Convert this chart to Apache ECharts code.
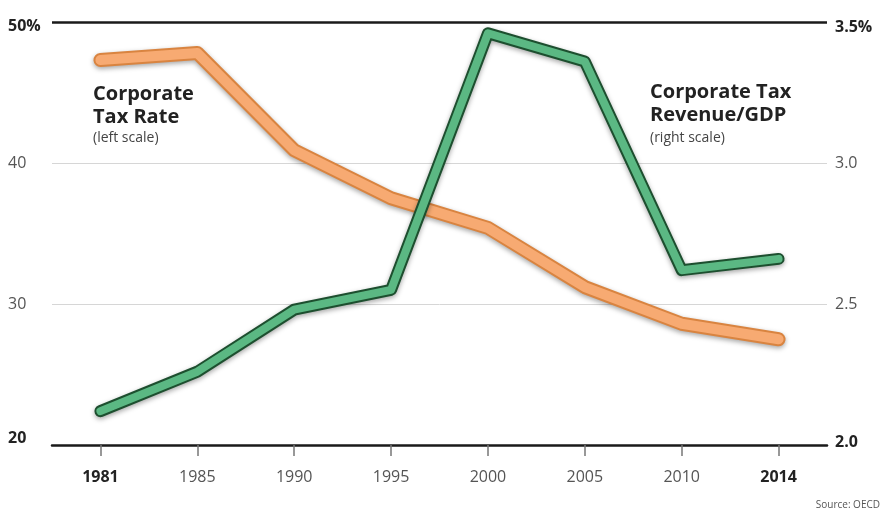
<!DOCTYPE html>
<html>
<head>
<meta charset="utf-8">
<script src="https://cdn.jsdelivr.net/npm/echarts@6/dist/echarts.min.js"></script>
<style>html,body{margin:0;padding:0;background:#fff}#c{width:888px;height:512px}</style>
</head>
<body>
<div id="c"></div>
<script>
const years = ['1981','1985','1990','1995','2000','2005','2010','2014'];
const taxRate = [47.3, 47.8, 40.9, 37.5, 35.4, 31.2, 28.6, 27.5];
const revenueGdp = [2.12, 2.26, 2.48, 2.55, 3.46, 3.36, 2.62, 2.66];
const leftTicks = [20, 30, 40, 50];
const rightTicks = [2.0, 2.5, 3.0, 3.5];

const FONT = '"Open Sans", "Noto Sans", sans-serif';
const chart = echarts.init(document.getElementById('c'));

function lineSeries(name, data, yIdx, color, width, z, shadow) {
  return {
    name: name, type: 'line', data: data, yAxisIndex: yIdx,
    symbol: 'none', z: z, silent: true,
    lineStyle: Object.assign({color: color, width: width, cap: 'round', join: 'round'},
      shadow ? {shadowColor: 'rgba(0,0,0,0.35)', shadowBlur: 5, shadowOffsetY: 2} : {})
  };
}

chart.setOption({
  animation: false,
  backgroundColor: '#fff',
  grid: {left: 52, right: 61, top: 22, bottom: 67},
  xAxis: {
    type: 'category', data: years, boundaryGap: true,
    axisLine: {lineStyle: {color: '#1a1a1a', width: 2.5}},
    axisTick: {show: true, alignWithLabel: true, inside: false, length: 11, lineStyle: {color: '#777', width: 1.5}},
    axisLabel: {
      margin: 24, fontFamily: FONT, fontSize: 16,
      formatter: function (v) { return (v === '1981' || v === '2014') ? '{b|' + v + '}' : '{r|' + v + '}'; },
      rich: {
        b: {fontFamily: FONT, fontSize: 16, fontWeight: 'bold', color: '#222'},
        r: {fontFamily: FONT, fontSize: 16, color: '#555'}
      }
    },
    splitLine: {show: false}
  },
  yAxis: [
    {
      type: 'value', min: 20, max: 50, interval: 10, position: 'left',
      axisLine: {show: false}, axisTick: {show: false},
      splitLine: {lineStyle: {color: '#d6d6d6', width: 1}},
      axisLabel: {
        align: 'left', margin: 44, fontFamily: FONT,
        formatter: function (v) {
          if (v === 50) return '{t|50%}';
          if (v === 20) return '{d|20}';
          return '{r|' + v + '}';
        },
        rich: {
          t: {fontFamily: FONT, fontSize: 16, fontWeight: 'bold', color: '#222', padding: [8, 0, 0, 0]},
          d: {fontFamily: FONT, fontSize: 16, fontWeight: 'bold', color: '#222', padding: [0, 0, 14, 0]},
          r: {fontFamily: FONT, fontSize: 16, color: '#555'}
        }
      }
    },
    {
      type: 'value', min: 2.0, max: 3.5, interval: 0.5, position: 'right',
      axisLine: {show: false}, axisTick: {show: false}, splitLine: {show: false},
      axisLabel: {
        margin: 8, fontFamily: FONT,
        formatter: function (v) {
          if (v === 3.5) return '{t|3.5%}';
          if (v === 2) return '{d|2.0}';
          return '{r|' + v.toFixed(1) + '}';
        },
        rich: {
          t: {fontFamily: FONT, fontSize: 16, fontWeight: 'bold', color: '#222', padding: [10, 0, 0, 0]},
          d: {fontFamily: FONT, fontSize: 16, fontWeight: 'bold', color: '#222', padding: [0, 0, 6, 0]},
          r: {fontFamily: FONT, fontSize: 16, color: '#555'}
        }
      }
    }
  ],
  series: [
    {
      type: 'line', data: [], yAxisIndex: 0,
      markLine: {
        silent: true, symbol: 'none', label: {show: false},
        lineStyle: {color: '#1a1a1a', width: 2.5, type: 'solid'},
        data: [{yAxis: 50}]
      }
    },
    lineSeries('Corporate Tax Rate', taxRate, 0, '#d98440', 14, 3, true),
    lineSeries('Corporate Tax Rate', taxRate, 0, '#f7aa72', 10, 4, false),
    lineSeries('Corporate Tax Revenue/GDP', revenueGdp, 1, '#1d4f2f', 12, 5, true),
    lineSeries('Corporate Tax Revenue/GDP', revenueGdp, 1, '#5bb883', 8, 6, false)
  ],
  graphic: [
    {type: 'text', left: 93, top: 83, z: 10, style: {text: 'Corporate\nTax Rate', fontFamily: FONT, fontSize: 20, fontWeight: 'bold', fill: '#222', lineHeight: 23}},
    {type: 'text', left: 93, top: 131, z: 10, style: {text: '(left scale)', fontFamily: FONT, fontSize: 14, fill: '#444'}},
    {type: 'text', left: 650, top: 81, z: 10, style: {text: 'Corporate Tax\nRevenue/GDP', fontFamily: FONT, fontSize: 20, fontWeight: 'bold', fill: '#222', lineHeight: 23}},
    {type: 'text', left: 650, top: 131, z: 10, style: {text: '(right scale)', fontFamily: FONT, fontSize: 14, fill: '#444'}},
    {type: 'text', right: 8, top: 500, z: 10, style: {text: 'Source: OECD', fontFamily: FONT, fontSize: 10, fill: '#555'}}
  ]
});
</script>
</body>
</html>
